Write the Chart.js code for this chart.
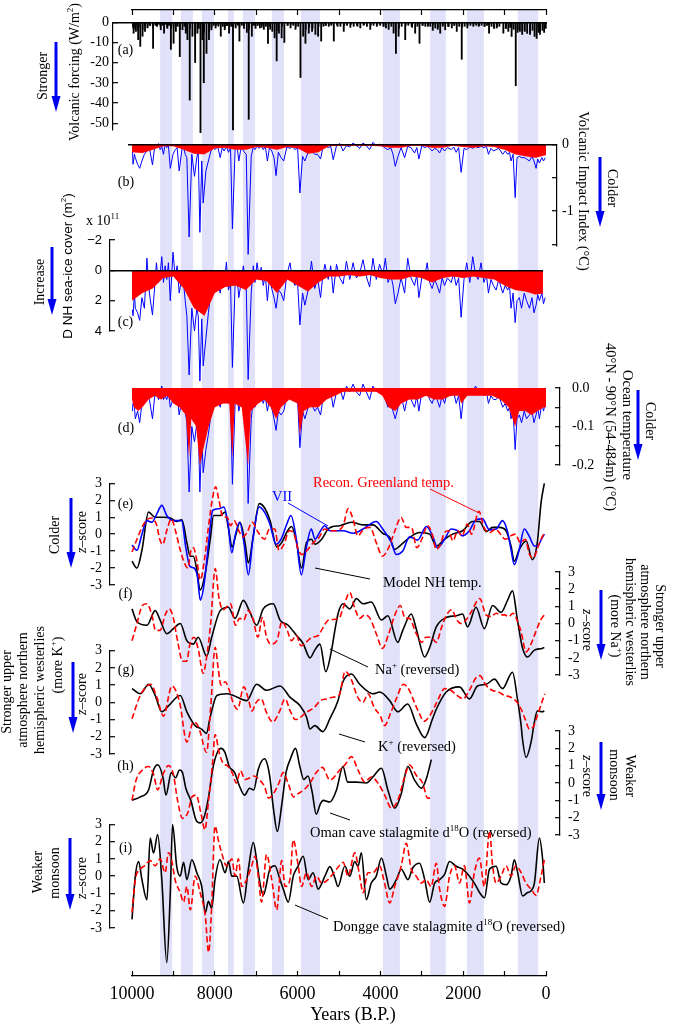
<!DOCTYPE html>
<html>
<head>
<meta charset="utf-8">
<title>Holocene volcanic forcing and climate records</title>
<script src="https://cdn.jsdelivr.net/npm/chart.js@4.4.1/dist/chart.umd.min.js"></script>
<style>
  body { margin: 0; background: #fff; }
  #wrap { position: relative; width: 675px; height: 1029px; overflow: hidden; }
  #wrap canvas { position: absolute; left: 0; top: 0; }
</style>
</head>
<body>
<div id="wrap">
  <canvas id="base" width="675" height="1029"></canvas>
  <canvas id="pa" width="675" height="1029"></canvas>
  <canvas id="pb" width="675" height="1029"></canvas>
  <canvas id="pc" width="675" height="1029"></canvas>
  <canvas id="pd" width="675" height="1029"></canvas>
  <canvas id="pe" width="675" height="1029"></canvas>
  <canvas id="pf" width="675" height="1029"></canvas>
  <canvas id="pg" width="675" height="1029"></canvas>
  <canvas id="ph" width="675" height="1029"></canvas>
  <canvas id="pi" width="675" height="1029"></canvas>
</div>
<script>
// ---------- data (years B.P.) ----------
var bands = [[9320, 9030], [8820, 8530], [8310, 8020], [7680, 7540], [7320, 7030], [6620, 6330],
             [5920, 5460], [3940, 3530], [2800, 2420], [1910, 1500], [680, 190]];

// years of the volcanic series, shared by (a)-(d)
var volcYears = [
  9990, 9975, 9940, 9920, 9865, 9815, 9760, 9700, 9640, 9580,
  9505, 9450, 9410, 9360, 9320, 9280, 9240, 9200, 9160, 9120,
  9075, 9010, 8955, 8910, 8860, 8795, 8750, 8715, 8675, 8620,
  8555, 8490, 8435, 8400, 8360, 8315, 8280, 8215, 8155, 8095,
  8040, 7995, 7930, 7870, 7820, 7775, 7720, 7670, 7620, 7575,
  7510, 7460, 7420, 7360, 7310, 7240, 7195, 7120, 7070, 7030,
  6980, 6925, 6880, 6830, 6780, 6730, 6680, 6625, 6570, 6520,
  6465, 6400, 6335, 6260, 6185, 6120, 6065, 6000, 5945, 5880,
  5825, 5745, 5665, 5585, 5520, 5445, 5390, 5340, 5260, 5200,
  5140, 5060, 4980, 4900, 4820, 4740, 4660, 4580, 4500, 4420,
  4340, 4260, 4180, 4100, 4020, 3940, 3880, 3815, 3750, 3695,
  3640, 3575, 3500, 3415, 3340, 3260, 3175, 3120, 3070, 3000,
  2930, 2870, 2810, 2750, 2690, 2630, 2570, 2510, 2450, 2380,
  2290, 2230, 2170, 2110, 2050, 1980, 1915, 1840, 1770, 1700,
  1640, 1570, 1500, 1440, 1390, 1330, 1270, 1205, 1140, 1045,
  985, 925, 880, 845, 795, 745, 700, 645, 590, 525,
  470, 400, 340, 290, 240, 200, 160, 100, 60, 20
];
// (a) volcanic forcing, W/m2
var forcing = [
  -2, -5.4, -3, -4.5, -8.6, -11.9, -6.9, -4.5, -2.8, -1.5,
  -12.9, -1.5, -2, -1, -3.7, -1.5, -5.4, -1, -3, -1.5,
  -13.4, -10.4, -4.5, -2, -17, -3.7, -2, -5.4, -8.6, -38.5,
  -6.9, -19.9, -5.4, -3, -54.6, -8.6, -29.9, -15.4, -8.6, -3.7,
  -1.5, -2.8, -1.5, -6.9, -2, -3.7, -1.5, -5.4, -2, -53.3,
  -2.8, -1.5, -9.3, -1.5, -3, -5, -48, -6.9, -1.5, -3,
  -1.5, -2.8, -1.5, -3.5, -1.5, -10.4, -2, -4.5, -7.7, -19.1,
  -5.4, -7.7, -10, -1.5, -2.8, -1.5, -3.5, -2, -27.3, -6.9,
  -10.4, -5.4, -4.5, -6, -6.9, -9.3, -2, -1.5, -2, -1.5,
  -9.3, -1.5, -2, -4.5, -1.5, -2.5, -2, -1.5, -2.8, -1.5,
  -2, -3.5, -1.5, -2, -1.5, -2, -2.8, -3.5, -2, -5.4,
  -15.4, -6.9, -2, -8.6, -1.5, -2, -5.4, -2, -10.4, -1.5,
  -2, -1.5, -2, -4, -2.8, -3.5, -5.4, -2, -3.7, -2,
  -2.8, -1.5, -4.5, -2, -18.3, -2, -2.8, -1.5, -2, -1.5,
  -2, -1.5, -2, -1.5, -5.4, -2, -3, -2.8, -2, -5.4,
  -3, -4.5, -2.5, -7, -3.5, -31.4, -5, -4.5, -6, -4.5,
  -5.5, -6, -4, -7, -8, -5, -6, -4, -5, -3
];
// small eruptions seen only in (a)
var minorYears = [
  9955, 9895, 9840, 9790, 9730, 9670, 9610, 9545, 9480, 9385,
  9300, 9220, 9140, 9040, 8985, 8930, 8830, 8690, 8590, 8460,
  8250, 8120, 8065, 7960, 7900, 7845, 7745, 7695, 7540, 7485,
  7390, 7280, 7160, 7095, 6955, 6855, 6755, 6650, 6490, 6365,
  6225, 6150, 6030, 5790, 5705, 5625, 5480, 5300, 5170, 5020,
  4860, 4700, 4540, 4380, 4220, 4060, 3910, 3540, 3375, 3220,
  2965, 2840, 2720, 2600, 2480, 2335, 2200, 2015, 1880, 1735,
  1605, 1470, 1360, 1170, 955, 820, 670, 555, 370, 130
];
var minorForcing = [
  -3, -2, -4, -2.5, -3.5, -1.5, -2, -1.5, -2.5, -1.5,
  -2, -1, -2.5, -3, -2, -1.5, -3.5, -4, -3, -6,
  -5, -4.5, -2.5, -1.5, -2, -1, -2.5, -1.5, -2, -1,
  -2.5, -1.5, -3, -2, -1.5, -2.5, -2, -3.5, -4, -2,
  -1.5, -1, -2, -3.5, -2.5, -3, -2, -1.5, -1, -2,
  -1.5, -1, -2, -1, -1.5, -1, -2, -3, -1.5, -2.5,
  -1.5, -2, -1, -2.5, -1.5, -2, -1.5, -2.5, -1.5, -1,
  -1.5, -2, -1, -2, -3, -2.5, -3.5, -4, -5, -4.5
];
// (b) volcanic impact index, degC (blue)
var viiBlue = [
  -0.05, -0.3, -0.15, -0.2, -0.3, -0.36, -0.25, -0.15, -0.1, -0.05,
  -0.31, -0.02, -0.05, 0.01, -0.08, -0.03, -0.15, 0.0, -0.05, -0.02,
  -0.36, -0.15, -0.08, -0.05, -0.4, -0.08, -0.05, -0.15, -0.2, -1.39,
  -0.15, -0.48, -0.2, -0.1, -1.32, -0.25, -0.88, -0.4, -0.25, -0.1,
  -0.05, -0.08, -0.03, -0.2, -0.05, -0.1, -0.03, -0.12, -0.05, -1.27,
  -0.08, -0.04, -0.25, -0.03, -0.1, -0.15, -1.65, -0.18, -0.04, -0.08,
  -0.03, -0.06, -0.02, -0.08, -0.03, -0.25, -0.05, -0.1, -0.2, -0.47,
  -0.12, -0.2, -0.25, -0.04, -0.06, -0.03, -0.08, -0.05, -0.73, -0.18,
  -0.25, -0.12, -0.1, -0.15, -0.15, -0.22, -0.05, -0.02, -0.05, -0.03,
  -0.23, -0.02, 0.01, -0.1, -0.02, -0.04, 0.02, -0.02, -0.06, 0.02,
  -0.02, -0.08, 0.03, -0.02, 0.0, -0.03, -0.06, -0.08, -0.05, -0.15,
  -0.33, -0.18, -0.05, -0.2, -0.03, -0.05, -0.13, -0.05, -0.22, -0.02,
  -0.05, -0.03, -0.06, -0.1, -0.06, -0.08, -0.13, -0.05, -0.1, -0.05,
  -0.08, -0.04, -0.12, -0.05, -0.42, -0.06, -0.08, -0.04, -0.06, -0.03,
  -0.05, -0.03, -0.05, -0.03, -0.15, -0.06, -0.1, -0.08, -0.06, -0.15,
  -0.1, -0.15, -0.12, -0.25, -0.15, -0.8, -0.2, -0.18, -0.2, -0.2,
  -0.22, -0.25, -0.18, -0.25, -0.36, -0.22, -0.28, -0.2, -0.25, -0.2
];
// (c) change in NH sea-ice cover, 10^11 m2 (blue)
var iceBlue = [
  2.6, 3.0, 1.5, 2.5, 2.8, 3.3, 1.8, 2.5, -0.8, 1.5,
  2.95, 1.0, -0.5, 0.8, 0.3, -0.9, 0.8, -0.3, 0.6, -0.5,
  2.0, -1.2, 0.5, -0.3, 1.5, 0.5, 1.0, 2.0, 3.0, 6.9,
  2.5, 4.0, 2.5, 3.0, 7.3, 3.2, 6.3, 4.5, 2.8, 1.5,
  0.5, 1.0, 0.6, 1.5, 0.3, 1.0, -0.55, 1.3, 0.8, 6.4,
  1.0, 0.5, 1.8, 0.7, -0.3, 1.2, 7.2, 1.5, -0.3, 0.8,
  -0.5, 0.5, -0.2, 1.0, 0.3, 2.0, 0.5, 1.2, 1.8, 2.5,
  1.3, 1.5, 2.0, 0.3, -0.5, 0.6, 1.0, 0.8, 3.6, 1.5,
  2.3, 1.3, -0.6, 1.2, 0.5, 1.8, 0.3, -0.4, 0.6, -0.3,
  1.5, -0.4, 0.5, 0.9, -0.6, 0.6, -0.5, 0.5, 0.2, -0.7,
  0.4, 1.1, -0.8, 0.6, -0.4, 0.3, -0.8, 0.8, 0.3, 1.0,
  2.2, 1.5, 0.5, 1.5, -0.8, 0.5, 1.0, 0.3, 1.8, 0.5,
  0.4, -0.5, 0.8, 1.2, 0.6, 1.0, 1.5, 0.5, 1.0, 0.5,
  0.8, 0.2, 1.0, 0.5, 3.1, 0.6, -0.5, 0.8, -0.9, 0.3,
  0.6, -0.5, 0.8, 0.3, 1.5, 0.6, 1.0, 1.3, 0.6, 1.5,
  1.0, 1.3, 1.0, 2.5, 1.5, 3.45, 2.0, 1.8, 2.5, 1.5,
  2.0, 2.5, 1.8, 2.8, 2.3, 1.6, 2.0, 1.5, 2.2, 1.8
];
// (d) ocean temperature 40-90N, degC (blue)
var oceanBlue = [
  -0.06, -0.04, -0.05, -0.08, -0.06, -0.09, -0.04, -0.02, -0.01, -0.03,
  -0.08, -0.02, -0.01, -0.03, -0.01, 0.005, -0.03, -0.02, -0.03, -0.01,
  -0.05, -0.03, -0.01, -0.02, -0.07, -0.03, -0.04, -0.06, -0.09, -0.27,
  -0.1, -0.14, -0.09, -0.1, -0.27, -0.13, -0.22, -0.16, -0.12, -0.07,
  -0.05, -0.04, -0.02, -0.05, -0.02, -0.03, -0.01, -0.04, -0.03, -0.25,
  -0.04, -0.02, -0.06, -0.03, -0.02, -0.05, -0.3, -0.08, -0.03, -0.05,
  -0.02, -0.03, -0.02, -0.04, -0.02, -0.06, -0.03, -0.05, -0.08, -0.11,
  -0.06, -0.07, -0.06, -0.02, -0.01, -0.02, -0.03, -0.03, -0.155, -0.06,
  -0.08, -0.05, -0.04, -0.06, -0.05, -0.07, -0.03, -0.01, -0.02, -0.01,
  -0.05, -0.01, 0.0, -0.03, 0.005, -0.01, 0.01, -0.01, -0.02, 0.01,
  -0.01, -0.03, 0.005, -0.01, 0.0, -0.01, -0.03, -0.05, -0.04, -0.06,
  -0.08, -0.05, -0.02, -0.06, -0.02, -0.03, -0.05, -0.02, -0.06, -0.01,
  -0.02, -0.01, -0.03, -0.04, -0.02, -0.03, -0.05, -0.02, -0.04, -0.01,
  -0.02, -0.01, -0.04, -0.02, -0.08, -0.01, -0.02, 0.0, -0.01, 0.005,
  -0.01, 0.0, -0.02, -0.01, -0.04, -0.02, -0.03, -0.03, -0.02, -0.05,
  -0.04, -0.06, -0.05, -0.08, -0.06, -0.16, -0.08, -0.07, -0.09, -0.06,
  -0.08, -0.07, -0.06, -0.09, -0.07, -0.05, -0.08, -0.04, -0.06, -0.04
];

// smoothed (red) series of (b) and (c)
var redYears = [10000, 9750, 9500, 9250, 9000, 8750, 8500, 8250, 8000, 7750, 7500, 7250, 7000, 6750,
                6500, 6250, 6000, 5750, 5500, 5250, 5000, 4750, 4500, 4250, 4000, 3750, 3500, 3250,
                3000, 2750, 2500, 2250, 2000, 1750, 1500, 1250, 1000, 750, 500, 250, 0];
var viiRed = [-0.12, -0.13, -0.08, -0.03, -0.03, -0.08, -0.14, -0.15, -0.06, -0.05, -0.08, -0.08, -0.04, -0.05,
              -0.08, -0.04, -0.06, -0.14, -0.12, -0.03, -0.02, -0.02, -0.02, -0.02, -0.03, -0.05, -0.05, -0.02,
              -0.02, -0.05, -0.05, -0.02, -0.04, -0.05, -0.03, -0.04, -0.08, -0.15, -0.18, -0.2, -0.16];
var iceRed = [2.0, 1.5, 1.2, 0.5, 0.4, 1.2, 2.5, 3.0, 1.5, 1.1, 1.0, 1.3, 0.6, 0.7,
              1.5, 0.6, 1.0, 1.4, 0.8, 0.4, 0.4, 0.3, 0.4, 0.3, 0.5, 0.6, 0.6, 0.4,
              0.5, 0.8, 0.5, 0.4, 0.5, 0.4, 0.5, 0.6, 1.0, 1.3, 1.4, 1.6, 1.5];
var oceanRed = [[10000, -0.03], [9950, -0.05], [9850, -0.06], [9750, -0.05], [9600, -0.03], [9450, -0.02],
  [9300, -0.03], [9150, -0.02], [9000, -0.04], [8850, -0.05], [8700, -0.07], [8620, -0.18], [8570, -0.08],
  [8450, -0.1], [8360, -0.2], [8280, -0.16], [8150, -0.1], [8000, -0.05], [7800, -0.04], [7650, -0.04],
  [7575, -0.18], [7520, -0.04], [7350, -0.05], [7195, -0.2], [7130, -0.06], [6950, -0.04], [6800, -0.03],
  [6650, -0.05], [6520, -0.08], [6400, -0.05], [6200, -0.03], [6000, -0.04], [5945, -0.12], [5850, -0.06],
  [5700, -0.05], [5500, -0.05], [5300, -0.03], [5100, -0.02], [4900, -0.01], [4700, -0.01], [4500, -0.01],
  [4300, -0.01], [4100, -0.01], [3950, -0.02], [3800, -0.05], [3640, -0.06], [3500, -0.04], [3300, -0.03],
  [3100, -0.03], [2900, -0.02], [2700, -0.03], [2500, -0.03], [2300, -0.02], [2100, -0.02], [2050, -0.04],
  [1900, -0.02], [1700, -0.02], [1500, -0.02], [1300, -0.02], [1100, -0.03], [900, -0.05], [745, -0.1],
  [650, -0.06], [500, -0.06], [350, -0.07], [200, -0.06], [50, -0.05], [0, -0.05]];

// (e) z-scores
var modelNH = [[10000, -1.6], [9880, -2.0], [9760, -0.95], [9600, 1.3], [9440, 1.0], [9240, 1.0], [9075, 0.95],
  [8920, 0.75], [8795, 0.85], [8675, -0.5], [8595, -1.3], [8520, -1.3], [8435, -2.1], [8355, -3.3], [8230, -2.3],
  [8110, -0.3], [8030, 1.1], [7870, 1.1], [7750, 1.3], [7675, 0.4], [7580, -0.75], [7510, -0.2], [7390, 0.7],
  [7270, -0.5], [7190, -1.7], [7070, -0.1], [6925, 1.8], [6785, 1.5], [6665, 0.8], [6505, -0.75], [6385, -0.5],
  [6265, 0.1], [6145, 0.45], [6025, -0.5], [5905, -2.0], [5785, -0.5], [5665, -0.3], [5585, -0.6], [5420, -0.3],
  [5265, 0.3], [5150, 0.45], [4980, 0.5], [4700, 0.7], [4425, 0.55], [4180, 0.55], [3945, 0.05], [3775, -0.2],
  [3655, -0.9], [3535, -0.7], [3295, -0.2], [3055, 0.1], [2810, 0], [2650, -0.7], [2450, -0.3], [2255, 0],
  [2015, 0.2], [1775, 0.75], [1605, 0.75], [1445, 0.15], [1290, 0.4], [1125, 0.4], [965, 0.2], [845, -0.7],
  [765, -1.6], [645, -0.9], [480, -0.4], [330, -1.5], [210, -0.5], [120, 1.85], [40, 3.0]];
var viiZ = [[10000, -0.65], [9880, -0.95], [9760, 0.0], [9640, 0.8], [9520, 0.7], [9400, 1.2], [9280, 1.7],
  [9160, 1.1], [9000, 0.8], [8900, 0.8], [8800, 0.8], [8700, -0.8], [8600, -1.9], [8500, -2.0], [8420, -2.5],
  [8350, -3.9], [8250, -2.8], [8150, -0.5], [8050, 1.4], [7900, 1.5], [7780, 1.6], [7680, 0.6], [7590, -1.1],
  [7500, 0.0], [7400, 0.7], [7290, -0.6], [7190, -2.4], [7080, -0.3], [6930, 1.6], [6800, 1.3], [6670, 0.6],
  [6520, -0.6], [6400, -0.3], [6260, 0.6], [6160, 1.1], [6030, -0.3], [5910, -2.4], [5790, -0.8], [5670, 0.3],
  [5580, -0.3], [5470, 0.1], [5350, 0.5], [5220, 0.2], [4900, 0.2], [4660, 0.05], [4420, 0.3], [4100, 0.75],
  [3945, 0.3], [3735, -0.5], [3615, -1.2], [3460, -1.0], [3295, -0.15], [3100, -0.35], [2890, 0.45],
  [2740, -0.1], [2620, -0.8], [2450, -0.3], [2290, 0.3], [2135, 0.2], [2015, -0.1], [1850, 0.2], [1690, 0.85],
  [1535, 0.9], [1365, 0.25], [1205, 0.3], [1050, 0.8], [930, 0.15], [845, -0.9], [765, -1.8], [645, -0.9],
  [525, 0.3], [400, -0.15], [280, -0.7], [210, -0.7], [90, -0.2], [40, 0.0]];
var greenland = [[10000, -1.05], [9880, -0.3], [9760, 0.4], [9640, 0.85], [9520, 0.95], [9400, 0.5], [9330, -0.3],
  [9260, -0.6], [9150, 0.3], [9050, 0.9], [8950, 0.2], [8850, -0.8], [8750, -1.6], [8650, -2.0], [8580, -1.0],
  [8520, -0.8], [8430, -1.6], [8350, -2.7], [8250, -1.5], [8150, 0.5], [8050, 2.2], [7980, 2.8], [7900, 2.0],
  [7800, 1.0], [7700, 1.0], [7620, 0.5], [7530, 0.8], [7420, 0.2], [7320, -0.15], [7220, 0.1], [7100, 0.7],
  [6950, 0.1], [6800, -0.3], [6680, 0.3], [6550, 0.3], [6450, -0.95], [6330, -0.6], [6200, 0.2], [6100, 0.1],
  [6000, -0.8], [5900, -1.2], [5750, -0.9], [5620, -0.5], [5480, -0.2], [5350, 0.3], [5200, 0.2], [5100, 0.2],
  [4900, 0.5], [4780, 1.5], [4650, 0.8], [4550, -0.1], [4400, 0.3], [4250, 0.4], [4100, -0.5], [3950, -1.3],
  [3800, -0.8], [3650, 0.2], [3500, 1.0], [3380, 0.4], [3250, 0.4], [3120, -0.8], [3000, -0.3], [2860, 0.5],
  [2750, 0.0], [2650, -0.9], [2550, -0.6], [2450, 0.1], [2350, 0.2], [2250, -0.4], [2130, 0.2], [2030, -0.1],
  [1900, 0.6], [1800, 0.0], [1620, 1.35], [1500, 0.4], [1350, 0.1], [1220, 0.3], [1100, 0.0], [980, -0.3],
  [860, -0.1], [740, 0.0], [620, -0.5], [500, -0.3], [400, -1.2], [300, -1.4], [200, -0.8], [100, -0.2], [30, 0.1]];

// (f) Na+ (reversed) and Greenland temperature
var naRev = [[10000, 0.85], [9880, 0.1], [9640, -0.1], [9440, 0.75], [9320, 0.2], [9160, -0.6], [9000, -0.3],
  [8835, 0.0], [8675, -1.0], [8520, -1.2], [8400, -0.8], [8195, -1.9], [8075, -0.8], [7870, 0.75], [7675, 0.95],
  [7510, 0.3], [7310, 1.35], [7150, 0.65], [6990, -0.1], [6830, 0.85], [6590, 1.15], [6425, 0.2], [6230, -0.1],
  [6025, -0.7], [5870, -1.15], [5700, -2.0], [5585, -1.55], [5460, -1.2], [5320, -2.8], [5180, -1.55],
  [5100, -0.4], [5020, 0.6], [4905, 1.15], [4740, 0.85], [4580, 1.45], [4420, 1.15], [4220, 1.25], [3975, 0.2],
  [3820, 0.45], [3580, -1.1], [3460, -0.4], [3255, 0.55], [3135, -0.3], [2930, -1.95], [2810, -1.4],
  [2650, -0.2], [2410, 0.35], [2170, 0.45], [2015, 0.55], [1895, -0.2], [1690, 0.95], [1490, -0.3], [1290, 1.05],
  [1085, 0.65], [930, 1.35], [810, 1.9], [690, 0.2], [570, -1.4], [450, -1.95], [280, -1.55], [90, -1.45], [40, -1.4]];
var naTemp = [[10000, -1.0], [9880, 0.0], [9750, 1.05], [9640, 1.15], [9520, 0.5], [9430, -0.4], [9320, -0.4],
  [9200, 0.5], [9100, 0.85], [9000, 0.3], [8900, -1.0], [8780, -2.2], [8680, -2.2], [8600, -1.2], [8500, -0.8],
  [8400, -1.5], [8280, -2.9], [8200, -2.0], [8100, 0.0], [7990, 3.2], [7900, 1.5], [7800, 0.8], [7700, 1.0],
  [7620, 1.15], [7500, -0.1], [7400, 0.3], [7300, 0.2], [7200, 0.75], [7080, 0.3], [6960, -0.8], [6850, 0.35],
  [6750, -0.8], [6650, -1.2], [6500, -1.0], [6380, 0.1], [6250, -0.4], [6150, -1.0], [6030, -0.7], [5920, -1.3],
  [5800, -1.1], [5650, -0.8], [5500, -0.7], [5400, -0.3], [5250, 0.2], [5000, 0.3], [4900, 0.9], [4740, 1.8],
  [4620, 0.9], [4500, 0.3], [4380, 0.5], [4250, 0.3], [4100, -0.6], [3950, -1.45], [3800, -0.6], [3650, 0.5],
  [3520, 1.05], [3400, 0.3], [3300, 0.3], [3150, -0.5], [3000, -1.1], [2900, -0.8], [2780, -0.8], [2650, -1.1],
  [2520, -0.2], [2400, 0.5], [2280, 0.8], [2150, 0.2], [2050, 0.0], [1900, 0.3], [1800, 0.7], [1600, 1.45],
  [1450, 0.5], [1330, 0.4], [1200, 0.6], [1100, 0.5], [1000, 0.5], [900, 0.4], [800, 0.6], [700, 0.2],
  [600, -0.5], [480, -1.65], [380, -1.3], [250, -0.5], [130, 0.2], [40, 0.5]];

// (g) K+ (reversed) and Greenland temperature
var kRev = [[10000, 0.8], [9800, 0.5], [9600, 1.05], [9440, 0.4], [9280, -0.55], [9120, -0.2], [8835, 0.4],
  [8675, -0.55], [8475, -1.35], [8320, -1.55], [8200, -1.8], [8120, -0.95], [7950, 0.4], [7710, 0.5], [7550, 0.4],
  [7230, 0.1], [6990, 1.05], [6745, 0.7], [6425, 0.95], [6185, 0.3], [5940, -0.2], [5785, -0.85], [5700, -1.55],
  [5585, -1.35], [5390, -1.7], [5220, -0.95], [5025, 0.1], [4905, 1.2], [4700, 1.65], [4500, 1.05], [4180, 0.5],
  [4015, 0.6], [3775, 0.1], [3580, -0.55], [3340, -0.1], [3135, -1.25], [2930, -2.05], [2740, -0.95],
  [2650, -0.4], [2410, 0.6], [2090, 0.9], [1850, 0.2], [1655, 0.95], [1445, 1.05], [1245, 1.35], [1050, 0.8],
  [810, 1.75], [690, 0.2], [600, -1.35], [570, -2.1], [480, -3.2], [360, -2.3], [280, -1.15], [210, -0.5],
  [90, -0.55], [40, -0.5]];
var kTemp = [[10000, -0.95], [9800, 0.4], [9550, 1.05], [9400, 0.3], [9240, -0.8], [9035, 0.95], [8850, 0.0],
  [8675, -2.3], [8520, -1.15], [8420, -1.3], [8355, -1.7], [8200, -2.9], [8100, -0.3], [7990, 3.2], [7920, 2.0],
  [7850, 1.0], [7750, 1.2], [7650, 0.7], [7560, 0.0], [7450, -0.4], [7300, 0.9], [7200, 0.3], [7100, -0.5],
  [7000, 0.0], [6880, 0.2], [6750, -0.6], [6600, -1.15], [6450, -0.6], [6300, 0.2], [6180, -0.5], [6050, -1.0],
  [5950, -0.9], [5800, -0.6], [5600, -0.3], [5450, 0.1], [5300, 0.2], [5150, 0.3], [5000, 0.4], [4850, 1.8],
  [4700, 1.3], [4550, 0.3], [4420, 0.0], [4300, 0.5], [4150, -0.3], [4000, -0.8], [3900, -1.35], [3750, -0.6],
  [3600, 0.3], [3450, 1.05], [3300, 0.7], [3180, 0.0], [3050, -0.7], [2950, -1.1], [2800, -0.75], [2700, -0.3],
  [2600, 0.2], [2450, 0.8], [2300, 0.7], [2150, 0.4], [2000, 0.2], [1850, 0.7], [1700, 1.4], [1600, 1.55],
  [1450, 1.0], [1300, 0.7], [1150, 0.6], [1000, 0.4], [850, 0.3], [700, 0.0], [600, -0.4], [500, -1.0],
  [400, -1.55], [300, -1.4], [200, -0.7], [100, 0.0], [30, 0.5]];

// (h) Oman cave d18O (reversed) and Greenland temperature
var omanRev = [[10000, -1.0], [9800, -0.8], [9600, -0.4], [9480, 0.75], [9380, 1.05], [9250, 0.3], [9180, -0.7],
  [9050, 0.6], [8950, 0.3], [8850, 0.75], [8780, 0.6], [8700, -0.3], [8580, -1.0], [8450, -2.15], [8350, -2.3],
  [8250, -1.9], [8150, -0.8], [8050, 0.8], [7950, 1.7], [7850, 2.0], [7760, 1.8], [7650, 0.95], [7520, 0.6],
  [7400, -0.2], [7280, -0.7], [7160, -0.3], [7060, -0.4], [6950, 0.8], [6800, 1.4], [6680, 0.5], [6580, -1.55],
  [6490, -2.8], [6380, -1.2], [6280, 0.6], [6180, 1.35], [6050, 2.0], [5950, 1.0], [5850, 0.2], [5750, 0.4],
  [5650, -0.5], [5550, -1.8], [5450, -1.2], [5380, -1.0], [5220, -1.1], [5060, -0.4], [4905, 0.95], [4790, 0.05],
  [4580, 0.05], [4340, 0.0], [4180, 0.35], [3975, 0.85], [3820, -0.4], [3655, -1.45], [3495, -0.6], [3340, 0.95],
  [3175, 0.17], [3010, -0.3], [2900, 0.17], [2770, 1.35]];
var omanTemp = [[10000, -1.0], [9900, 0.17], [9750, 0.75], [9600, 0.95], [9480, 0.5], [9380, -0.4], [9250, 0.5],
  [9120, 1.0], [9000, 0.5], [8900, -1.0], [8780, -2.04], [8650, -1.7], [8550, -0.8], [8450, -0.7], [8330, -1.8],
  [8240, -2.7], [8150, -1.0], [8060, 1.0], [7990, 2.8], [7900, 1.8], [7800, 1.14], [7700, 1.0], [7580, 0.6],
  [7480, 0.0], [7380, 0.7], [7270, 0.2], [7150, 0.3], [7050, 0.4], [6930, 0.2], [6800, -0.2], [6700, -0.87],
  [6580, -0.6], [6450, 0.0], [6350, 0.6], [6230, 0.0], [6100, -0.8], [5980, -0.6], [5850, -0.4], [5700, 0.0],
  [5550, 0.6], [5400, 0.9], [5220, 0.17], [4980, 0.75], [4860, 1.04], [4700, 1.52], [4540, 0.75], [4380, 0.07],
  [4220, 0.35], [4060, 0.0], [3895, -0.7], [3735, -1.45], [3580, -1.0], [3415, 0.35], [3295, 1.04], [3135, 0.45],
  [2980, 0.0], [2860, -0.87], [2770, -0.87]];

// (i) Dongge cave d18O (reversed) and Greenland temperature
var donggeRev = [[10000, -2.5], [9920, 0], [9840, 0.85], [9760, -0.2], [9640, -1.36], [9560, 2.2], [9480, 1.34],
  [9380, 2.4], [9280, -0.2], [9160, -5.0], [9075, -0.95], [9020, 2.98], [8920, 0.57], [8835, 0], [8755, 0.8],
  [8675, -0.2], [8555, 0.95], [8435, 0.2], [8315, -0.6], [8230, -2.13], [8155, -1.46], [8075, -1.85],
  [7995, -0.2], [7875, 0.95], [7750, 0.2], [7670, 0.85], [7590, 0], [7470, 0], [7310, -1.55], [7190, 0.4],
  [7070, 1.95], [6990, 0.95], [6910, -0.4], [6830, -1.1], [6670, 0.4], [6550, 0.6], [6425, -0.2], [6345, -0.75],
  [6225, -1.5], [6105, 0], [5985, 0.6], [5865, 1.15], [5745, -0.2], [5625, 0.2], [5505, -0.75], [5340, 0],
  [5220, 0.55], [5100, -0.1], [5025, -0.6], [4860, 0.57], [4740, 0], [4620, 0.85], [4540, 0.57], [4460, 1.35],
  [4340, -1.36], [4220, -0.4], [4100, 0], [3975, 1.05], [3855, 0], [3775, -0.75], [3615, -0.2], [3495, 0.4],
  [3335, -0.2], [3215, 0.5], [3055, 0.75], [2930, -0.2], [2810, -1.5], [2690, -0.4], [2570, -0.2], [2450, 0.1],
  [2330, 0.85], [2170, 0.57], [2010, 0.4], [1850, 0], [1730, -0.4], [1605, -0.95], [1485, -1.25], [1365, 0.4],
  [1205, 0.57], [1085, -0.4], [965, -0.5], [845, 0], [765, 0.95], [685, 0.2], [565, -1.15], [445, -0.95],
  [360, -0.85], [280, -0.4], [160, 2.2], [80, 0.95], [40, -0.4]];
var donggeTemp = [[10000, -2.1], [9920, -0.2], [9800, 0.4], [9700, 0.6], [9560, 0.9], [9440, 0.6], [9320, 1.0],
  [9200, 0.2], [9120, 1.35], [9040, 0.9], [8960, -0.2], [8835, -0.95], [8755, -1.5], [8675, -0.6], [8590, -1.95],
  [8475, 0], [8355, -0.95], [8230, -2.3], [8150, -4.4], [8075, -1.7], [7995, 2.9], [7915, 2.1], [7835, 1.35],
  [7715, 0.6], [7590, 1.0], [7510, 0], [7430, 1.0], [7350, -0.6], [7230, -0.2], [7110, 0.6], [7030, 1.15],
  [6950, 0], [6870, -1.5], [6750, 1.25], [6625, -0.2], [6505, -1.95], [6385, 0.9], [6300, -0.6], [6185, -0.2],
  [6105, 2.1], [5985, 0.6], [5905, -0.6], [5785, 0.2], [5660, -0.6], [5545, 0], [5420, -0.4], [5265, -0.2],
  [5060, 0.4], [4900, 0.8], [4780, 0], [4620, 1.35], [4500, 0], [4420, -0.95], [4300, 0.2], [4180, 0.2],
  [4020, 0.6], [3900, -0.4], [3775, -1.55], [3655, -0.6], [3495, 0.6], [3375, 1.9], [3255, 0.4], [3135, 0],
  [3015, -0.4], [2895, -0.2], [2775, -0.6], [2650, 0.75], [2570, -0.75], [2450, -1.75], [2330, 0], [2210, 0.6],
  [2090, -0.4], [1970, 0.6], [1850, -1.55], [1730, 0.2], [1610, 1.05], [1490, -0.6], [1365, 2.6], [1290, 0.6],
  [1205, -0.4], [1085, 0], [965, 0.6], [845, 0], [725, 0.6], [600, 0.2], [485, -0.4], [360, -0.75], [240, -1.1],
  [120, 0], [40, 0.95]];

// ---------- layout ----------
var SERIF = '"Liberation Serif", "Times New Roman", serif';
var SANS = '"Liberation Sans", Arial, sans-serif';
var X0 = 546, K = 0.0414;            // pixel of year 0, pixels per year
var BLUE = '#0000FF', RED = '#FF0000', BAND = '#E1E1FA';

function pts(xs, ys) { return xs.map(function (x, i) { return { x: x, y: ys[i] }; }); }
function pairs(a) { return a.map(function (p) { return { x: p[0], y: p[1] }; }); }

function smooth(data, color, dashed) {
  return { data: pairs(data), borderColor: color, borderWidth: 1.6, borderDash: dashed ? [6, 3] : [],
           pointRadius: 0, cubicInterpolationMode: 'monotone', fill: false, clip: false };
}
function spiky(data, w) {
  return { data: data, borderColor: BLUE, borderWidth: w || 1, pointRadius: 0, tension: 0, fill: false, clip: false };
}
function redFill(data) {
  return { data: data, borderWidth: 0.1, borderColor: RED, backgroundColor: RED, pointRadius: 0,
           tension: 0, fill: 'origin', clip: false };
}

function panel(id, p, datasets, extra) {
  var W = 40, left = p.side === 'left';
  return new Chart(document.getElementById(id), {
    type: 'line',
    data: { datasets: datasets },
    options: {
      responsive: false, animation: false, events: [],
      layout: { padding: {
        left: left ? p.L - W : p.L,
        right: left ? 675 - p.R : 675 - p.R - W,
        top: p.top, bottom: 1029 - p.bottom } },
      plugins: { legend: { display: false }, tooltip: { enabled: false } },
      scales: {
        x: { type: 'linear', display: false, reverse: true, offset: false,
             min: (X0 - p.R) / K, max: (X0 - p.L) / K },
        y: { position: p.side, min: p.min, max: p.max, reverse: !!p.reverse,
             afterFit: function (s) { s.width = W; },
             border: { z: 1, color: '#000', width: 1.2 },
             grid: { z: 1, drawOnChartArea: !!p.zero, tickLength: -5, tickColor: '#000', tickWidth: 1.2, lineWidth: 1.4,
                     color: function (c) { return c.tick && c.tick.value === 0 ? '#000' : 'rgba(0,0,0,0)'; } },
             ticks: { stepSize: p.step, includeBounds: false, autoSkip: false, padding: p.gap + 5, color: '#000',
                      font: { family: p.font || SERIF, size: p.fs || 14 },
                      callback: p.fmt || function (v) { return String(v); } } }
      }
    },
    plugins: extra || []
  });
}

// shaded cold-event bands and the two shared x axes
var bandPlugin = { id: 'bands', beforeDraw: function (chart) {
  var a = chart.chartArea, x = chart.scales.x, ctx = chart.ctx;
  ctx.save();
  ctx.fillStyle = BAND;
  bands.forEach(function (b) {
    var x1 = x.getPixelForValue(b[0]), x2 = x.getPixelForValue(b[1]);
    ctx.fillRect(Math.min(x1, x2), a.top, Math.abs(x2 - x1), a.bottom - a.top);
  });
  ctx.restore();
} };

new Chart(document.getElementById('base'), {
  type: 'line',
  data: { datasets: [] },
  options: {
    responsive: false, animation: false, events: [],
    layout: { padding: { left: X0 - 10000 * K, right: 675 - X0, top: 10, bottom: 0 } },
    plugins: { legend: { display: false }, tooltip: { enabled: false } },
    scales: {
      x: { type: 'linear', position: 'bottom', min: 0, max: 10000, reverse: true,
           afterFit: function (s) { s.height = 1029 - 976; },
           border: { color: '#000', width: 1.2 },
           grid: { drawOnChartArea: false, tickLength: -5, tickColor: '#000', tickWidth: 1.2 },
           ticks: { stepSize: 1000, autoSkip: false, maxRotation: 0, includeBounds: false, padding: 12, color: '#000',
                    font: { family: SERIF, size: 18 },
                    callback: function (v) { return v % 2000 === 0 ? String(v) : ''; } } },
      xTop: { type: 'linear', axis: 'x', position: 'top', min: 0, max: 10000, reverse: true,
              afterFit: function (s) { s.height = 0; },
              border: { color: '#000', width: 1.2 },
              grid: { drawOnChartArea: false, tickLength: -5, tickColor: '#000', tickWidth: 1.2 },
              ticks: { stepSize: 1000, autoSkip: false, display: false } },
      y: { display: false }
    }
  },
  plugins: [bandPlugin]
});

// (a) volcanic forcing
panel('pa', { side: 'left', L: 113, R: 547, top: 22.3, bottom: 129.4, min: -53, max: 0, step: 10, gap: 4, zero: true },
  [{ type: 'bar', data: pts(minorYears, minorForcing), backgroundColor: '#000', barThickness: 1, clip: false },
   { type: 'bar', data: pts(volcYears, forcing), backgroundColor: '#000', barThickness: 1.2, clip: false }]);

// (b) volcanic impact index
panel('pb', { side: 'right', L: 128, R: 557, top: 144.3, bottom: 245.7, min: -1.52, max: 0, step: 0.5, gap: 5, zero: true,
  fmt: function (v) { return Number.isInteger(v) ? String(v) : ''; } },
  [redFill(pts(redYears, viiRed)), spiky(pts(volcYears, viiBlue))]);

// (c) NH sea-ice cover
panel('pc', { side: 'left', L: 110, R: 543, top: 240, bottom: 331, min: -2, max: 4, reverse: true, step: 2, gap: 8,
  zero: true, font: SANS, fs: 13, fmt: function (v) { return v < 0 ? '\u2212' + (-v) : String(v); } },
  [redFill(pts(redYears, iceRed)), spiky(pts(volcYears, iceBlue))]);

// (d) ocean temperature
panel('pd', { side: 'right', L: 132, R: 560, top: 388, bottom: 465, min: -0.2, max: 0, step: 0.05, gap: 12,
  fmt: function (v) { return Math.abs(v * 10 - Math.round(v * 10)) < 1e-6 ? (Math.round(v * 10) / 10).toFixed(1) : ''; } },
  [redFill(pairs(oceanRed)), spiky(pts(volcYears, oceanBlue))]);

// (e)-(i) z-score panels
panel('pe', { side: 'left', L: 110, R: 547, top: 483.3, bottom: 585, min: -3, max: 3, step: 1, gap: 8 },
  [smooth(greenland, RED, true), smooth(viiZ, BLUE), smooth(modelNH, '#000')]);
panel('pf', { side: 'right', L: 128, R: 560, top: 572, bottom: 675, min: -3, max: 3, step: 1, gap: 8 },
  [smooth(naTemp, RED, true), smooth(naRev, '#000')]);
panel('pg', { side: 'left', L: 110, R: 547, top: 650.7, bottom: 754, min: -3, max: 3, step: 1, gap: 8 },
  [smooth(kTemp, RED, true), smooth(kRev, '#000')]);
panel('ph', { side: 'right', L: 128, R: 560, top: 731, bottom: 835, min: -3, max: 3, step: 1, gap: 8 },
  [smooth(omanTemp, RED, true), smooth(omanRev, '#000')]);

// ---------- labels, arrows and leader lines ----------
function zs() { return [{ t: 'z', it: true }, { t: '\u2013score' }]; }
var texts = [
  { t: '(a)', x: 125.5, y: 50 }, { t: '(b)', x: 126, y: 182 }, { t: '(c)', x: 125.5, y: 322 },
  { t: '(d)', x: 126, y: 428 }, { t: '(e)', x: 125.5, y: 504 }, { t: '(f)', x: 125.5, y: 594 },
  { t: '(g)', x: 126, y: 670 }, { t: '(h)', x: 125.5, y: 766 }, { t: '(i)', x: 125.5, y: 848 },
  { runs: [{ t: 'Volcanic forcing (W/m' }, { t: '2', sup: true }, { t: ')' }], x: 75, y: 72, rot: -90, size: 14 },
  { t: 'Stronger', x: 43, y: 76, rot: -90 },
  { runs: [{ t: 'x 10' }, { t: '11', sup: true }], x: 86, y: 221, align: 'left' },
  { runs: [{ t: 'D NH sea-ice cover (m' }, { t: '2', sup: true }, { t: ')' }], x: 68, y: 266, rot: -90, size: 13.5, fam: SANS },
  { t: 'Increase', x: 40, y: 282, rot: -90 },
  { t: 'Volcanic Impact Index (\u00B0C)', x: 583, y: 191, rot: 90, size: 14.5 },
  { t: 'Colder', x: 612, y: 188, rot: 90 },
  { t: 'Ocean temperature', x: 627, y: 425, rot: 90, size: 14.5 },
  { t: '40\u00B0N - 90\u00B0N (54-484m) (\u00B0C)', x: 610, y: 427, rot: 90, size: 14.5 },
  { t: 'Colder', x: 650, y: 421, rot: 90 },
  { t: 'Colder', x: 55, y: 535, rot: -90 },
  { runs: zs(), x: 82, y: 532, rot: -90 },
  { runs: zs(), x: 587, y: 630, rot: 90 },
  { runs: [{ t: '(more Na' }, { t: '+', sup: true }, { t: ')' }], x: 615, y: 626, rot: 90 },
  { t: 'hemispheric westerlies', x: 630, y: 622, rot: 90 },
  { t: 'atmosphere northern', x: 645, y: 622, rot: 90 },
  { t: 'Stronger upper', x: 660, y: 626, rot: 90 },
  { runs: zs(), x: 82, y: 694, rot: -90 },
  { runs: [{ t: '(more K' }, { t: '+', sup: true }, { t: ')' }], x: 58, y: 665, rot: -90 },
  { t: 'hemispheric westerlies', x: 40, y: 690, rot: -90 },
  { t: 'atmosphere northern', x: 23, y: 690, rot: -90 },
  { t: 'Stronger upper', x: 7, y: 692, rot: -90 },
  { runs: zs(), x: 587, y: 776, rot: 90 },
  { t: 'monsoon', x: 614, y: 775, rot: 90 },
  { t: 'Weaker', x: 630, y: 776, rot: 90 },
  { runs: zs(), x: 82, y: 878, rot: -90 },
  { t: 'monsoon', x: 55, y: 873, rot: -90 },
  { t: 'Weaker', x: 38, y: 872, rot: -90 },
  { t: 'VII', x: 272, y: 497, align: 'left', color: BLUE, size: 14.5 },
  { t: 'Recon. Greenland temp.', x: 313, y: 483, align: 'left', color: RED, size: 14.5 },
  { t: 'Model NH temp.', x: 383, y: 583, align: 'left', size: 14.5 },
  { runs: [{ t: 'Na' }, { t: '+', sup: true }, { t: ' (reversed)' }], x: 375, y: 670, align: 'left', size: 14.5 },
  { runs: [{ t: 'K' }, { t: '+', sup: true }, { t: ' (reversed)' }], x: 378, y: 747, align: 'left', size: 14.5 },
  { runs: [{ t: 'Oman cave stalagmite d' }, { t: '18', sup: true }, { t: 'O (reversed)' }], x: 310, y: 833, align: 'left', size: 14.5 },
  { runs: [{ t: 'Dongge cave stalagmite d' }, { t: '18', sup: true }, { t: 'O (reversed)' }], x: 333, y: 927, align: 'left', size: 14.5 },
  { t: 'Years (B.P.)', x: 353, y: 1015, size: 18 }
];
var arrows = [[56, 42, 112], [52, 247, 315], [600, 157, 227], [638, 390, 460], [71, 498, 568],
              [601, 590, 660], [73, 662, 733], [601, 742, 810], [70, 838, 910]];
var leaders = [[288, 503, 328, 526, BLUE], [430, 489, 479, 513, RED], [315, 568, 370, 579, '#000'],
               [330, 649, 368, 667, '#000'], [339, 734, 365, 742, '#000'], [330, 813, 350, 820, '#000'],
               [295, 905, 328, 919, '#000']];

function fontOf(r, size, fam) {
  return (r.it ? 'italic ' : '') + (r.sup ? Math.round(size * 0.62) : size) + 'px ' + fam;
}
function drawText(ctx, o) {
  var size = o.size || 14, fam = o.fam || SERIF, runs = o.runs || [{ t: o.t }], w = 0;
  ctx.save();
  ctx.translate(o.x, o.y);
  if (o.rot) ctx.rotate(o.rot * Math.PI / 180);
  ctx.fillStyle = o.color || '#000';
  ctx.textBaseline = 'middle';
  ctx.textAlign = 'left';
  runs.forEach(function (r) { ctx.font = fontOf(r, size, fam); r.w = ctx.measureText(r.t).width; w += r.w; });
  var x = o.align === 'left' ? 0 : -w / 2;
  runs.forEach(function (r) {
    ctx.font = fontOf(r, size, fam);
    ctx.fillText(r.t, x, r.sup ? -size * 0.33 : 0);
    x += r.w;
  });
  ctx.restore();
}
function drawArrow(ctx, x, y1, y2) {
  ctx.save();
  ctx.strokeStyle = ctx.fillStyle = '#0000F0';
  ctx.lineWidth = 3;
  ctx.beginPath(); ctx.moveTo(x, y1); ctx.lineTo(x, y2 - 14); ctx.stroke();
  ctx.beginPath(); ctx.moveTo(x - 4.5, y2 - 16); ctx.lineTo(x + 4.5, y2 - 16); ctx.lineTo(x, y2); ctx.closePath(); ctx.fill();
  ctx.restore();
}
var labelPlugin = { id: 'labels', afterDraw: function (chart) {
  var ctx = chart.ctx;
  leaders.forEach(function (l) {
    ctx.save(); ctx.strokeStyle = l[4]; ctx.lineWidth = 1;
    ctx.beginPath(); ctx.moveTo(l[0], l[1]); ctx.lineTo(l[2], l[3]); ctx.stroke();
    ctx.restore();
  });
  arrows.forEach(function (a) { drawArrow(ctx, a[0], a[1], a[2]); });
  texts.forEach(function (t) { drawText(ctx, t); });
} };

panel('pi', { side: 'left', L: 110, R: 547, top: 824.3, bottom: 928, min: -3, max: 3, step: 1, gap: 8 },
  [smooth(donggeTemp, RED, true), smooth(donggeRev, '#000')], [labelPlugin]);
</script>
</body>
</html>
